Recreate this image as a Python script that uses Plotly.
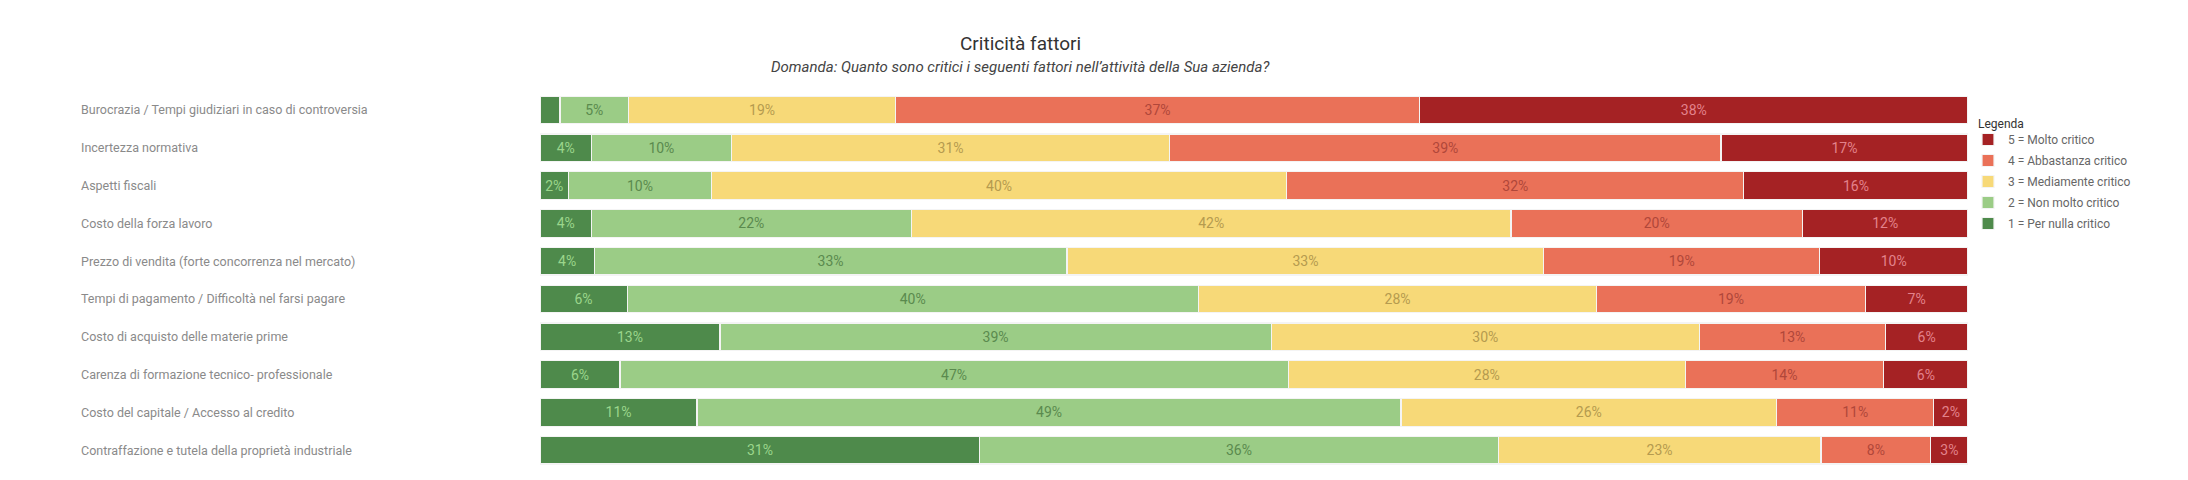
import plotly.graph_objects as go

fattori = [
    "Burocrazia / Tempi giudiziari in caso di controversia",
    "Incertezza normativa",
    "Aspetti fiscali",
    "Costo della forza lavoro",
    "Prezzo di vendita (forte concorrenza nel mercato)",
    "Tempi di pagamento / Difficoltà nel farsi pagare",
    "Costo di acquisto delle materie prime",
    "Carenza di formazione tecnico- professionale",
    "Costo del capitale / Accesso al credito",
    "Contraffazione e tutela della proprietà industriale",
]

livelli = [
    "1 = Per nulla critico",
    "2 = Non molto critico",
    "3 = Mediamente critico",
    "4 = Abbastanza critico",
    "5 = Molto critico",
]

per_nulla = [1.4, 3.6, 2.0, 3.6, 3.8, 6.1, 12.6, 5.6, 11.0, 30.8]
non_molto = [4.8, 9.8, 10.0, 22.4, 33.1, 40.0, 38.6, 46.8, 49.3, 36.3]
mediamente = [18.7, 30.7, 40.3, 42.0, 33.4, 27.9, 30.0, 27.8, 26.3, 22.6]
abbastanza = [36.7, 38.6, 32.0, 20.4, 19.3, 18.8, 13.0, 13.9, 11.0, 7.7]
molto = [38.4, 17.3, 15.7, 11.6, 10.4, 7.2, 5.8, 5.9, 2.4, 2.6]

serie = [per_nulla, non_molto, mediamente, abbastanza, molto]
colori = ['#4e8a4b', '#9bcc86', '#f7d978', '#ea7158', '#a52224']
colori_testo = ['#9bd68b', '#5a8a4e', '#b59b4f', '#b0473a', '#e3828c']

# la pagina html ha 8px di margine sul body: la figura e' spostata di 8px
W, H = 2180, 472
ML, MR, MT, MB = 532, 220, 83, 11

fig = go.Figure()
for i, (nome, valori, col, col_t) in enumerate(zip(livelli, serie, colori, colori_testo)):
    fig.add_trace(go.Bar(
        y=fattori,
        x=valori,
        name=nome,
        legendgroup=nome,
        legendrank=len(livelli) - i,
        orientation='h',
        marker=dict(color=col, line=dict(color='#f4f4f4', width=1.2)),
        text=[f"{v:.0f}%" if v >= 1.5 else "" for v in valori],
        textposition='inside',
        insidetextanchor='middle',
        textangle=0,
        textfont=dict(family='Roboto', size=14, color=col_t),
        hoverinfo='skip',
    ))

pw = W - ML - MR
ph = H - MT - MB

annotations = []
for f in fattori:
    annotations.append(dict(
        x=(71 - ML) / pw, xref='paper', xanchor='left',
        y=f, yref='y', yanchor='middle',
        text=f, showarrow=False,
        font=dict(family='Roboto', size=12.5, color='#8a8a8a'),
    ))

annotations.append(dict(
    x=(1012 - ML) / pw, xref='paper', xanchor='center',
    y=(H - MB - 36) / ph, yref='paper', yanchor='middle',
    text="Criticità fattori", showarrow=False,
    font=dict(family='Roboto', size=19, color='#333333'),
))
annotations.append(dict(
    x=(1012 - ML) / pw, xref='paper', xanchor='center',
    y=(H - MB - 59) / ph, yref='paper', yanchor='middle',
    text="<i>Domanda: Quanto sono critici i seguenti fattori nell’attività della Sua azienda?</i>",
    showarrow=False,
    font=dict(family='Roboto', size=15, color='#444444'),
))
annotations.append(dict(
    x=(1968 - ML) / pw, xref='paper', xanchor='left',
    y=(H - MB - 116) / ph, yref='paper', yanchor='middle',
    text="Legenda", showarrow=False,
    font=dict(family='Roboto', size=12, color='#333333'),
))

fig.update_layout(
    width=W, height=H,
    barmode='stack',
    bargap=0.27,
    plot_bgcolor='white',
    paper_bgcolor='white',
    margin=dict(l=ML, r=MR, t=MT, b=MB),
    xaxis=dict(range=[0, 100], visible=False),
    yaxis=dict(autorange='reversed', showticklabels=False, showgrid=False, zeroline=False),
    legend=dict(
        traceorder='grouped',
        tracegroupgap=2,
        x=(1960 - ML) / pw, xanchor='left',
        y=(H - MB - 117) / ph, yanchor='top',
        font=dict(family='Roboto', size=12, color='#666666'),
        itemwidth=30,
        bgcolor='rgba(0,0,0,0)',
    ),
    annotations=annotations,
    showlegend=True,
)

fig.write_html("out.html")
